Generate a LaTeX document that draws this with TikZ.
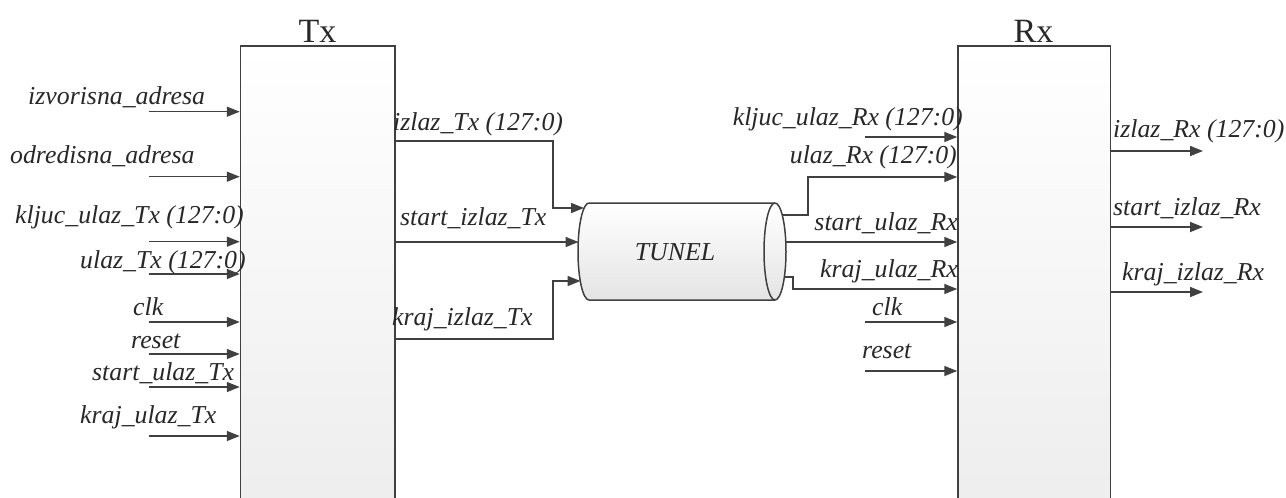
\documentclass[tikz,border=0pt]{standalone}
\usepackage{fontspec}
\setmainfont{Liberation Serif}
\usetikzlibrary{arrows.meta}
\definecolor{linecol}{RGB}{64,64,64}
\definecolor{boxbot}{RGB}{236,236,236}
\definecolor{tunbot}{RGB}{228,228,228}
\definecolor{txtcol}{RGB}{40,40,40}
\begin{document}
\begin{tikzpicture}[x=1pt,y=-1pt,
  sig/.style={draw=linecol, line width=1.5pt, -{Triangle[length=13pt,width=10pt]}},
  wire/.style={draw=linecol, line width=1.5pt},
  lbl/.style={font=\fontsize{25.8}{26}\selectfont\itshape, inner sep=0pt, text=txtcol},
  ttl/.style={font=\fontsize{34}{34}\selectfont, inner sep=0pt, text=txtcol},
  blk/.style={draw=linecol, line width=1.5pt, top color=white, bottom color=boxbot,
    rectangle, inner sep=0pt, minimum height=494pt}
]
\clip (0,0) rectangle (1286,498);
\fill[white] (0,0) rectangle (1286,498);

% blocks
\node[blk, minimum width=154.5pt] (tx) at (317.75,293) {};
\node[blk, minimum width=152.5pt] (rx) at (1034.25,293) {};
\node[ttl, anchor=base] (txl) at (317.5,42) {Tx};
\node[ttl, anchor=base] (rxl) at (1033.5,42) {Rx};

% tunnel
\shade[top color=white, bottom color=tunbot, draw=linecol, line width=1.5pt]
  (589,203) -- (775,203) arc[start angle=90, end angle=-90, x radius=11pt, y radius=48.5pt]
  -- (589,300) arc[start angle=270, end angle=90, x radius=11pt, y radius=48.5pt] -- cycle;
\draw[linecol, line width=1.5pt] (775,300) arc[start angle=270, end angle=90, x radius=11pt, y radius=48.5pt];
\node[lbl] (tunel) at (675,252) {TUNEL};
\coordinate (tin1) at (584,208);
\coordinate (tin2) at (578.5,242);
\coordinate (tin3) at (580.5,281);
\coordinate (tout1) at (782,215);
\coordinate (tout2) at (785.5,242);
\coordinate (tout3) at (784.5,277);

% Tx inputs
\foreach \y/\n in {111.7/i1,176.7/i2,241.7/i3,274/i4,322/i5,354/i6,387/i7,436/i8}{
  \coordinate (\n) at (149,\y);
  \draw[sig] (\n) -- (\n -| tx.west);
}
\node[lbl, anchor=base west] (l1) at (28,104) {izvorisna\_adresa};
\node[lbl, anchor=base west] (l2) at (10,163) {odredisna\_adresa};
\node[lbl, anchor=base west] (l3) at (15,223) {kljuc\_ulaz\_Tx (127:0)};
\node[lbl, anchor=base west] (l4) at (80,268) {ulaz\_Tx (127:0)};
\node[lbl, anchor=base west] (l5) at (133,315) {clk};
\node[lbl, anchor=base west] (l6) at (131,348) {reset};
\node[lbl, anchor=base west] (l7) at (92,380) {start\_ulaz\_Tx};
\node[lbl, anchor=base west] (l8) at (80,423) {kraj\_ulaz\_Tx};

% Tx outputs to tunnel
\draw[sig] (tx.east |- 0,141) -- (553,141) -- (553,208) -- (tin1);
\draw[sig] (tx.east |- tin2) -- (tin2);
\draw[sig] (tx.east |- 0,339) -- (553,339) -- (553,281) -- (tin3);
\node[lbl, anchor=base west] (o1) at (393,130) {izlaz\_Tx (127:0)};
\node[lbl, anchor=base west] (o2) at (400,225) {start\_izlaz\_Tx};
\node[lbl, anchor=base west] (o3) at (392,325) {kraj\_izlaz\_Tx};

% tunnel to Rx
\draw[sig] (tout1) -- (808,215) -- (808,177) -- (rx.west |- 0,177);
\draw[sig] (tout2) -- (rx.west |- tout2);
\draw[sig] (tout3) -- (793,277) -- (793,289) -- (rx.west |- 0,289);
\coordinate (r1) at (865,137);
\coordinate (r5) at (865,322);
\coordinate (r6) at (865,371);
\draw[sig] (r1) -- (r1 -| rx.west);
\draw[sig] (r5) -- (r5 -| rx.west);
\draw[sig] (r6) -- (r6 -| rx.west);
\node[lbl, anchor=base east] (m1) at (963,125) {kljuc\_ulaz\_Rx (127:0)};
\node[lbl, anchor=base east] (m2) at (957,163) {ulaz\_Rx (127:0)};
\node[lbl, anchor=base east] (m3) at (958,230) {start\_ulaz\_Rx};
\node[lbl, anchor=base east] (m4) at (958,277) {kraj\_ulaz\_Rx};
\node[lbl, anchor=base west] (m5) at (872,315) {clk};
\node[lbl, anchor=base west] (m6) at (862,358) {reset};

% Rx outputs
\foreach \y/\n in {151/q1,227/q2,292/q3}{
  \coordinate (\n) at (1203,\y);
  \draw[sig] (\n -| rx.east) -- (\n);
}
\node[lbl, anchor=base west] (p1) at (1113,137) {izlaz\_Rx (127:0)};
\node[lbl, anchor=base west] (p2) at (1113,215) {start\_izlaz\_Rx};
\node[lbl, anchor=base west] (p3) at (1122,280) {kraj\_izlaz\_Rx};
\end{tikzpicture}
\end{document}
